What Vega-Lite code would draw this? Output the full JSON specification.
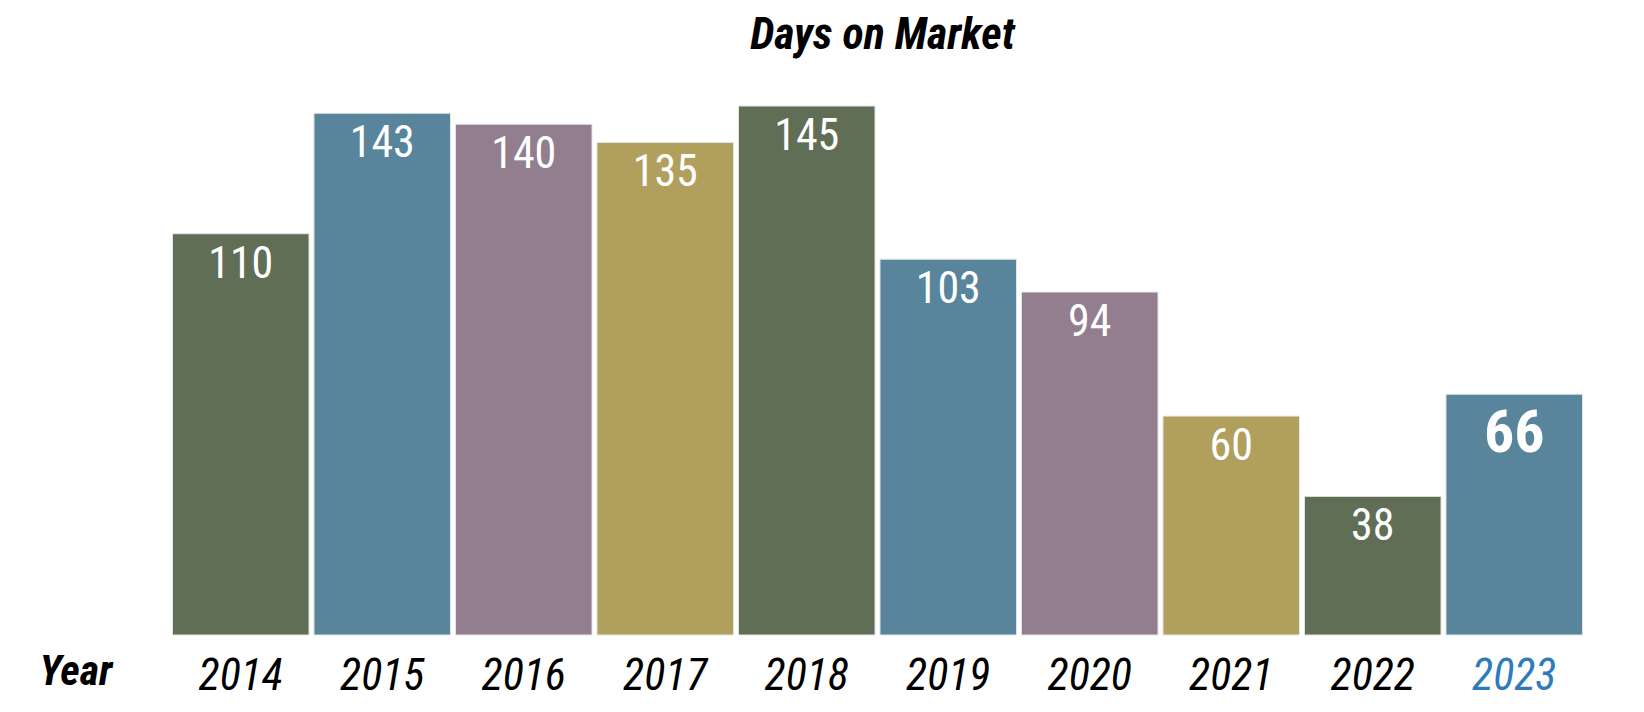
{
  "$schema": "https://vega.github.io/schema/vega-lite/v6.json",
  "width": 1415,
  "height": 529,
  "autosize": {"type": "none"},
  "padding": {"left": 170, "top": 106, "right": 59, "bottom": 77},
  "background": "white",
  "config": {"view": {"stroke": null}, "font": "Roboto Condensed"},
  "title": {
    "text": "Days on Market",
    "font": "Roboto Condensed",
    "fontSize": 44,
    "fontStyle": "italic",
    "fontWeight": "bold",
    "anchor": "middle",
    "baseline": "alphabetic",
    "offset": 13,
    "dx": 5,
    "color": "black"
  },
  "data": {
    "values": [
      {"year": "2014", "days": 110},
      {"year": "2015", "days": 143},
      {"year": "2016", "days": 140},
      {"year": "2017", "days": 135},
      {"year": "2018", "days": 145},
      {"year": "2019", "days": 103},
      {"year": "2020", "days": 94},
      {"year": "2021", "days": 60},
      {"year": "2022", "days": 38},
      {"year": "2023", "days": 66}
    ]
  },
  "encoding": {
    "x": {
      "field": "year",
      "type": "nominal",
      "sort": null,
      "scale": {"paddingInner": 0.035, "paddingOuter": 0.0175},
      "axis": {
        "title": "Year",
        "titleFont": "Roboto Condensed",
        "titleFontSize": 42,
        "titleFontWeight": "bold",
        "titleFontStyle": "italic",
        "titleColor": "black",
        "titleAlign": "right",
        "titleBaseline": "alphabetic",
        "titleX": -58,
        "titleY": 49,
        "labelAngle": 0,
        "labelFont": "Roboto Condensed",
        "labelFontSize": 44,
        "labelFontStyle": "italic",
        "labelColor": {"condition": {"test": "datum.value == '2023'", "value": "#2e7bba"}, "value": "black"},
        "labelBaseline": "alphabetic",
        "labelPadding": 54,
        "labelOverlap": false,
        "domain": false,
        "ticks": false,
        "tickSize": 0
      }
    },
    "y": {
      "field": "days",
      "type": "quantitative",
      "scale": {"domain": [0, 145], "nice": false},
      "axis": null
    }
  },
  "layer": [
    {
      "mark": {"type": "bar", "stroke": "#e4e6e6", "strokeWidth": 1},
      "encoding": {
        "color": {
          "field": "year",
          "type": "nominal",
          "legend": null,
          "scale": {
            "domain": ["2014", "2015", "2016", "2017", "2018", "2019", "2020", "2021", "2022", "2023"],
            "range": ["#616e56", "#58849c", "#927e8f", "#b1a05d", "#616e56", "#58849c", "#927e8f", "#b1a05d", "#616e56", "#58849c"]
          }
        }
      }
    },
    {
      "transform": [{"filter": "datum.year != '2023'"}],
      "mark": {"type": "text", "baseline": "alphabetic", "dy": 44, "fontSize": 44, "color": "white", "font": "Roboto Condensed"},
      "encoding": {"text": {"field": "days", "type": "quantitative"}}
    },
    {
      "transform": [{"filter": "datum.year == '2023'"}],
      "mark": {"type": "text", "baseline": "alphabetic", "dy": 58, "fontSize": 60, "fontWeight": "bold", "color": "white", "font": "Roboto Condensed"},
      "encoding": {"text": {"field": "days", "type": "quantitative"}}
    }
  ]
}
